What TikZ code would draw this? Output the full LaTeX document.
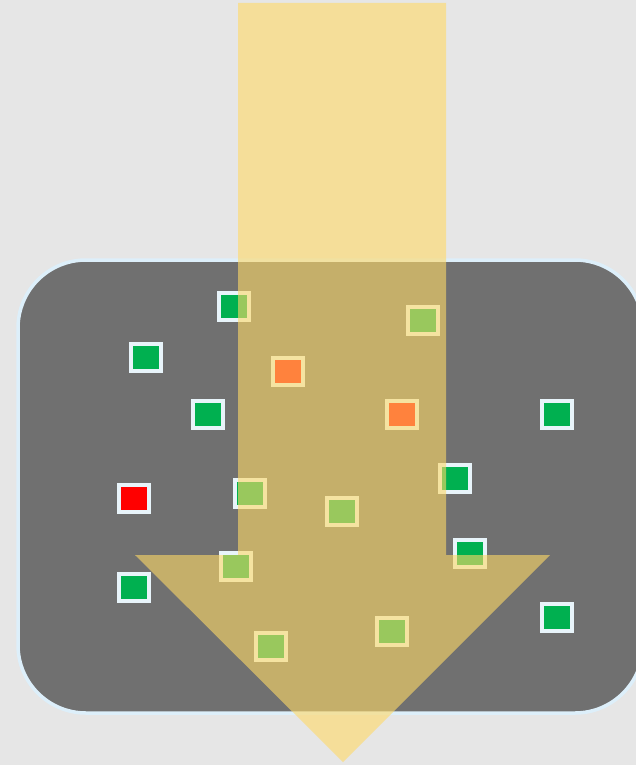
\documentclass[tikz,border=0pt]{standalone}
\definecolor{bggray}{HTML}{E6E6E6}
\definecolor{boxgray}{HTML}{707070}
\definecolor{boxedge}{HTML}{DDEFFA}
\definecolor{sqedge}{HTML}{E8F4FA}
\definecolor{sqgreen}{HTML}{00B050}
\definecolor{sqred}{HTML}{FF0000}
\definecolor{arrowyel}{HTML}{FFD966}
\tikzset{
  sq/.style={draw=sqedge, line width=4pt, fill=#1, minimum width=30pt, minimum height=27pt, inner sep=0pt, outer sep=0pt},
  bigbox/.style={draw=boxedge, line width=3.5pt, fill=boxgray, rounded corners=68pt},
  bigarrow/.style={fill=arrowyel, fill opacity=0.6, draw=none}
}
\begin{document}
\begin{tikzpicture}[x=1pt,y=-1pt]
\path[fill=bggray] (0,0) rectangle (636,765);
\useasboundingbox (0,0) rectangle (636,765);
\begin{scope}
\clip (0,0) rectangle (636,765);
\draw[bigbox] (18,260) rectangle (643,713);
\end{scope}
% squares
\node[sq=sqgreen] (s1) at (234,306) {};
\node[sq=sqgreen] (s2) at (145.5,357) {};
\node[sq=sqgreen] (s3) at (208,414) {};
\node[sq=sqred] (s4) at (288,371) {};
\node[sq=sqgreen] (s5) at (423,320.5) {};
\node[sq=sqred] (s6) at (402,414) {};
\node[sq=sqgreen] (s7) at (557,414) {};
\node[sq=sqgreen] (s8) at (454.5,478) {};
\node[sq=sqgreen] (s9) at (470,553) {};
\node[sq=sqred] (s10) at (134,498) {};
\node[sq=sqgreen] (s11) at (250,493.5) {};
\node[sq=sqgreen] (s12) at (342,511) {};
\node[sq=sqgreen] (s13) at (236,566) {};
\node[sq=sqgreen] (s14) at (134,587) {};
\node[sq=sqgreen] (s15) at (270.5,646) {};
\node[sq=sqgreen] (s16) at (391.7,631.7) {};
\node[sq=sqgreen] (s17) at (557,617) {};
% arrow
\path[bigarrow] (238,3) -- (446,3) -- (446,555) -- (550,555) -- (343,762) -- (135,555) -- (238,555) -- cycle;
\end{tikzpicture}
\end{document}
